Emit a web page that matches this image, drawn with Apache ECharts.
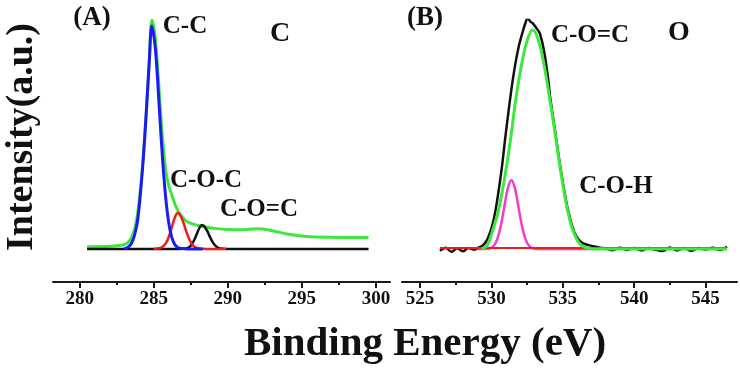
<!DOCTYPE html>
<html>
<head>
<meta charset="utf-8">
<script src="https://cdn.jsdelivr.net/npm/echarts@6/dist/echarts.min.js"></script>
<style>
html, body { margin: 0; padding: 0; background: #fff; }
#chart { width: 740px; height: 374px; }
</style>
</head>
<body>
<div id="chart"></div>
<script>
// (A) C 1s
const ticksA = [280, 285, 290, 295, 300]
const envelopeA = [[280.5,0.9],[281,1.0],[282,1.2],[282.8,1.6],[283.1,2.2],[283.3,3.2],[283.5,5],[283.7,8.5],[283.9,15],[284.1,26],[284.3,41],[284.5,60],[284.7,82],[284.88,100],[285.05,95],[285.2,85],[285.4,66],[285.6,48],[285.8,35],[286.0,28],[286.2,24],[286.5,18.5],[286.8,15],[287.2,12.2],[287.6,11],[288.0,10.3],[288.5,9.6],[289,9.1],[290,8.5],[291,8.4],[292,8.8],[293,8.0],[294,6.6],[295,5.7],[296,5.2],[297,5.1],[298,5.0],[299.5,5.0]]
const ccA = [[283.0,0],[283.3,1],[283.5,2.5],[283.7,6],[283.9,12],[284.1,24],[284.3,40],[284.5,60],[284.7,82],[284.87,97.4],[285.05,91],[285.2,80],[285.4,59],[285.6,39],[285.8,23],[286.0,12],[286.2,5.5],[286.4,2.2],[286.6,0.8],[286.9,0.2],[287.3,0],[288.3,0]]
const cocA = [[285.0,0],[285.5,0.6],[285.8,2.3],[286.0,5],[286.2,9],[286.4,13.3],[286.62,15.7],[286.8,14.6],[287.0,11.6],[287.2,7.6],[287.4,4.3],[287.6,2.0],[287.8,0.8],[288.1,0.2],[288.5,0],[289.9,0]]
const coeqcA = [[280.5,0],[286.5,0],[287.0,0.1],[287.3,0.5],[287.5,1.5],[287.7,3.5],[287.9,6.5],[288.1,9.4],[288.25,10.5],[288.4,10],[288.6,8],[288.8,5.2],[289.0,2.8],[289.2,1.2],[289.4,0.4],[289.7,0.1],[290.2,0],[299.5,0]]

// (B) O 1s
const ticksB = [525, 530, 535, 540, 545]
const rawB = [[526.4,-0.8],[526.8,0.6],[527.2,-1.2],[527.6,0.3],[528.0,-1.0],[528.4,0.4],[528.8,-0.3],[529.1,0.6],[529.4,1.6],[529.7,4],[530.0,9],[530.2,14],[530.4,21],[530.7,34],[531.0,50],[531.3,65],[531.6,78],[531.9,88],[532.2,95],[532.4,99],[532.55,101],[532.7,99.5],[532.9,98.5],[533.2,96],[533.4,94],[533.7,86],[534.0,73],[534.1,67],[534.45,52],[534.8,37],[535.2,22],[535.5,13.5],[535.8,7.5],[536.1,4.2],[536.4,2.6],[536.8,1.7],[537.2,1.1],[537.6,0.6],[538.0,0.2],[538.5,-0.5],[539.0,0.6],[539.5,-0.4],[540.0,0.5],[540.5,-0.6],[541.0,0.4],[541.5,-0.3],[542.0,-0.9],[542.5,0.7],[543.0,-0.6],[543.5,0.5],[544.0,-0.8],[544.5,0.4],[545.0,-0.2],[545.5,0.6],[546.0,-0.4],[546.5,1.0]]
const coeqcB = [[529.3,0],[529.7,1.5],[530.1,8.3],[530.5,17],[530.9,30],[531.3,46],[531.7,65],[532.1,80],[532.5,91],[532.9,95.6],[533.3,91],[533.7,80],[534.1,65],[534.45,51],[534.8,36],[535.2,21],[535.5,12.5],[535.7,8.3],[536.1,3],[536.5,0.8],[537,0.1],[537.5,0],[546.5,0]]
const cohB = [[529.0,0],[529.65,0.1],[529.9,0.3],[530.15,1.3],[530.4,4.1],[530.65,9.8],[530.9,18.2],[531.15,26.5],[531.4,30],[531.65,26.5],[531.9,18.2],[532.15,9.8],[532.4,4.1],[532.65,1.3],[532.9,0.3],[533.2,0],[537.5,0]]
const baseB = [[526.4,0.4],[546.5,0.4]]

const serif = '"Liberation Serif", "Times New Roman", serif'
const axisColor = '#1a1a1a'

// full-length axis line under the curves, no ticks
function lineAxis (gridIndex, min, max) {
    return {
        type: 'value',
        gridIndex: gridIndex,
        min: min,
        max: max,
        axisLine: { show: true, onZero: false, lineStyle: { color: axisColor, width: 2 } },
        axisTick: { show: false },
        axisLabel: { show: false },
        splitLine: { show: false }
    }
}

// ticks + labels, on a grid lined up with the first and last tick
function tickAxis (gridIndex, ticks) {
    return {
        type: 'value',
        gridIndex: gridIndex,
        min: ticks[0],
        max: ticks[ticks.length - 1],
        interval: ticks[1] - ticks[0],
        axisLine: { show: false, onZero: false },
        axisTick: { show: true, length: 6, lineStyle: { color: axisColor, width: 2 } },
        minorTick: { show: true, splitNumber: 2, length: 3, lineStyle: { color: axisColor, width: 2 } },
        axisLabel: {
            show: true,
            margin: 8,
            color: '#111',
            fontFamily: serif,
            fontWeight: 'bold',
            fontSize: 19
        },
        splitLine: { show: false },
        minorSplitLine: { show: false }
    }
}

function hiddenY (gridIndex) {
    return { type: 'value', gridIndex: gridIndex, min: -14.4, max: 100, show: false }
}

function curve (name, data, xAxisIndex, yAxisIndex, color, width) {
    return {
        name: name,
        type: 'line',
        xAxisIndex: xAxisIndex,
        yAxisIndex: yAxisIndex,
        data: data,
        smooth: 0.35,
        showSymbol: false,
        silent: true,
        lineStyle: { color: color, width: width }
    }
}

function label (text, x, y, size) {
    return {
        type: 'text',
        x: x,
        y: y,
        style: {
            text: text,
            fill: '#111',
            font: 'bold ' + size + 'px ' + serif,
            textAlign: 'center',
            textVerticalAlign: 'middle'
        }
    }
}

const options = {
    animation: false,
    backgroundColor: '#fff',
    grid: [
        { left: 53, right: 350, top: 20, bottom: 92 },
        { left: 79.66, right: 364.1, top: 20, bottom: 92 },
        { left: 402, right: 3, top: 20, bottom: 92 },
        { left: 420, right: 34.42, top: 20, bottom: 92 }
    ],
    xAxis: [
        lineAxis(0, 278.2, 300.95),
        tickAxis(1, ticksA),
        lineAxis(2, 523.74, 547.2),
        tickAxis(3, ticksB)
    ],
    yAxis: [hiddenY(0), hiddenY(1), hiddenY(2), hiddenY(3)],
    series: [
        curve('envelope', envelopeA, 0, 0, '#3de83d', 3),
        curve('C-O=C', coeqcA, 0, 0, '#111', 2.5),
        curve('C-O-C', cocA, 0, 0, '#f01c1c', 2.5),
        curve('C-C', ccA, 0, 0, '#1c1cf0', 3),
        curve('raw', rawB, 2, 2, '#111', 2.5),
        curve('C-O-H', cohB, 2, 2, '#f03ad4', 2.5),
        curve('baseline', baseB, 2, 2, '#f01c1c', 2),
        curve('C-O=C', coeqcB, 2, 2, '#3de83d', 3)
    ],
    graphic: [
        {
            type: 'text',
            x: 22,
            y: 137,
            rotation: Math.PI / 2,
            style: {
                text: 'Intensity(a.u.)',
                fill: '#111',
                font: 'bold 38px ' + serif,
                textAlign: 'center',
                textVerticalAlign: 'middle'
            }
        },
        label('Binding Energy (eV)', 425, 344, 41),
        label('(A)', 92, 18, 27),
        label('C-C', 185, 27, 25),
        label('C', 280, 34, 28),
        label('C-O-C', 206, 181, 25),
        label('C-O=C', 259, 210, 25),
        label('(B)', 425, 18, 27),
        label('C-O=C', 590, 36, 25),
        label('O', 679, 33, 28),
        label('C-O-H', 616, 187, 25)
    ]
}

const chart = echarts.init(document.getElementById('chart'))
chart.setOption(options, true)
</script>
</body>
</html>
